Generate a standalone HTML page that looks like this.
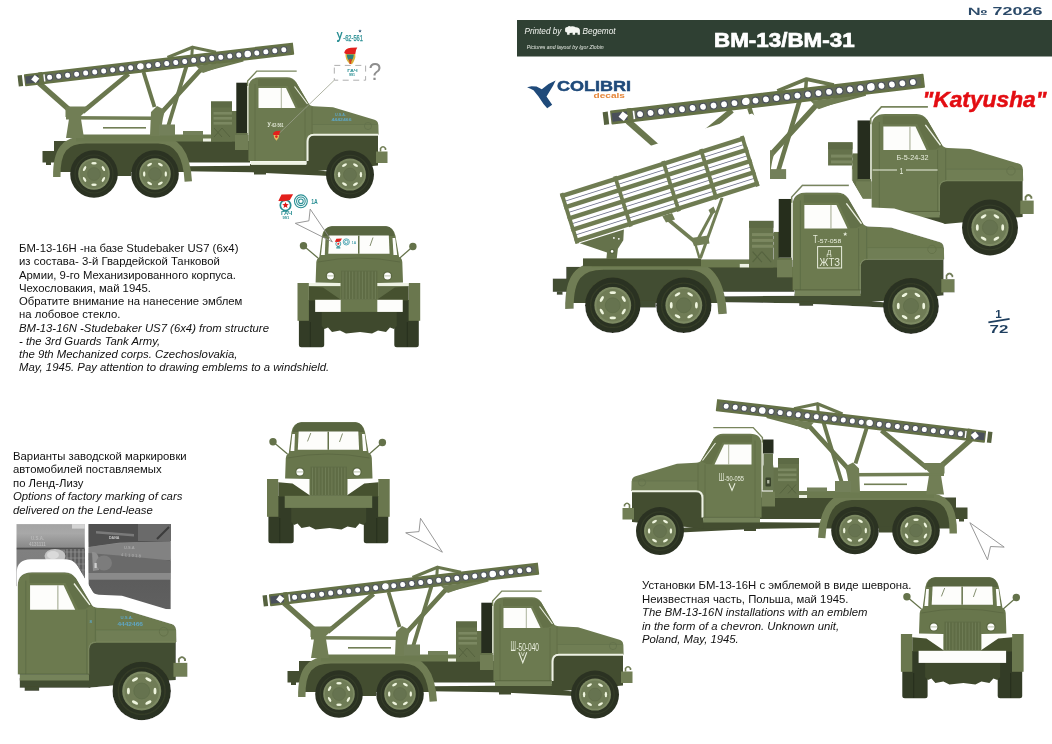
<!DOCTYPE html>
<html><head><meta charset="utf-8"><title>BM-13/BM-31</title>
<style>
html,body{margin:0;padding:0;background:#fff;}
body{width:1052px;height:744px;position:relative;overflow:hidden;font-family:"Liberation Sans",sans-serif;}
</style></head><body>
<svg width="1052" height="744" viewBox="0 0 1052 744" style="position:absolute;left:0;top:0;will-change:transform;opacity:0.999"><defs><g id="chassis"><polygon points="186,166.3 252,165.8 330,171.5 330,176 252,172.3 186,171.3" fill="#434d30"/><rect x="54" y="141" width="196" height="21.5" fill="#434d30"/><rect x="42.5" y="151" width="14" height="11.5" fill="#434d30"/><rect x="46" y="162" width="5" height="3" fill="#434d30"/><path d="M56.8,172 C56.3,150 65,139.8 86,139.8 L158,139.8 C180,139.8 187,158 188,172 Z" fill="#434d30"/><rect x="117" y="170" width="14" height="6" fill="#434d30"/><path d="M56.8,177 C56.3,150 65,139.8 86,139.8 L158,139.8 C180,139.8 187,158 188.3,181.5" fill="none" stroke="#707d54" stroke-width="7.4"/><rect x="76" y="134.5" width="160" height="7" fill="#6c7a50"/><rect x="203" y="138.5" width="8" height="3" fill="#eef2e4"/><circle cx="94" cy="174" r="23.8" fill="#2b3222"/><circle cx="94" cy="174" r="19.0" fill="none" stroke="#343c28" stroke-width="1.2"/><circle cx="94" cy="174" r="15.8" fill="#7d8a63"/><circle cx="94" cy="174" r="14.0" fill="#6f7c56"/><circle cx="94" cy="174" r="6.4" fill="#667350" stroke="#5f6c48" stroke-width="0.6"/><ellipse cx="103.4" cy="179.4" rx="2.74" ry="1.19" fill="#eff5de" transform="rotate(120 103.4 179.4)"/><ellipse cx="94.0" cy="184.8" rx="2.74" ry="1.19" fill="#eff5de" transform="rotate(180 94.0 184.8)"/><ellipse cx="84.6" cy="179.4" rx="2.74" ry="1.19" fill="#eff5de" transform="rotate(240 84.6 179.4)"/><ellipse cx="84.6" cy="168.6" rx="2.74" ry="1.19" fill="#eff5de" transform="rotate(300 84.6 168.6)"/><ellipse cx="94.0" cy="163.2" rx="2.74" ry="1.19" fill="#eff5de" transform="rotate(360 94.0 163.2)"/><ellipse cx="103.4" cy="168.6" rx="2.74" ry="1.19" fill="#eff5de" transform="rotate(420 103.4 168.6)"/><circle cx="155" cy="174" r="23.8" fill="#2b3222"/><circle cx="155" cy="174" r="19.0" fill="none" stroke="#343c28" stroke-width="1.2"/><circle cx="155" cy="174" r="15.8" fill="#7d8a63"/><circle cx="155" cy="174" r="14.0" fill="#6f7c56"/><circle cx="155" cy="174" r="6.4" fill="#667350" stroke="#5f6c48" stroke-width="0.6"/><ellipse cx="165.8" cy="174.0" rx="2.74" ry="1.19" fill="#eff5de" transform="rotate(90 165.8 174.0)"/><ellipse cx="160.4" cy="183.4" rx="2.74" ry="1.19" fill="#eff5de" transform="rotate(150 160.4 183.4)"/><ellipse cx="149.6" cy="183.4" rx="2.74" ry="1.19" fill="#eff5de" transform="rotate(210 149.6 183.4)"/><ellipse cx="144.2" cy="174.0" rx="2.74" ry="1.19" fill="#eff5de" transform="rotate(270 144.2 174.0)"/><ellipse cx="149.6" cy="164.6" rx="2.74" ry="1.19" fill="#eff5de" transform="rotate(330 149.6 164.6)"/><ellipse cx="160.4" cy="164.6" rx="2.74" ry="1.19" fill="#eff5de" transform="rotate(390 160.4 164.6)"/></g><g id="bm13"><path d="M39,83 L69.5,110" stroke="#6a774e" fill="none" stroke-linecap="butt" stroke-width="5.4"/><path d="M128.5,74 L82.5,112" stroke="#6a774e" fill="none" stroke-linecap="butt" stroke-width="4.8"/><path d="M143.5,72 L154.5,107" stroke="#6a774e" fill="none" stroke-linecap="butt" stroke-width="3.9"/><path d="M186.5,66 L167,130" stroke="#6a774e" fill="none" stroke-linecap="butt" stroke-width="3.9"/><path d="M243,59.3 L200,70.5 L157,117.5" stroke="#6a774e" fill="none" stroke-linecap="butt" stroke-width="4.7" stroke-linejoin="round"/><path d="M167.5,57.5 L192.5,47.2 L216,52.3" stroke="#6a774e" fill="none" stroke-linecap="butt" stroke-width="3.2" stroke-linejoin="round"/><path d="M192.4,47.5 L191.5,60" stroke="#6a774e" fill="none" stroke-linecap="butt" stroke-width="3"/><polygon points="196,66 236,61 203,73" fill="#717e55"/><polygon points="66,116 155,116.5 155,120 66,119.5" fill="#717e55"/><polygon points="65.5,106.5 90,106.5 80,117 65.5,117" fill="#717e55"/><polygon points="69,119 81,119 84,138 66,138" fill="#717e55"/><polygon points="151,112 157,106 165,110 163,118 160,136 150,136" fill="#717e55"/><rect x="159" y="124.5" width="16" height="11" fill="#73805a"/><rect x="103" y="127" width="43" height="1.6" fill="#717e55"/><rect x="183" y="131" width="20" height="4" fill="#73805a"/><g transform="translate(24.5,80.3) rotate(-6.721)"><rect x="-6.4" y="-5.5" width="4.4" height="11" fill="#56623f"/><rect x="0" y="-6.1" width="270.9" height="12.2" rx="0.8" fill="#647146"/><rect x="1" y="-3.5" width="266.9" height="7" fill="#636b58"/><rect x="1.2" y="-3.6" width="13" height="7.2" fill="#4a505a"/><rect x="14.5" y="-6.1" width="4" height="12.2" fill="#647146"/><rect x="7.9" y="-2.9" width="5.8" height="5.8" fill="#fff" transform="rotate(45 10.8 0)"/><rect x="19.3" y="-3.6" width="1.4" height="7.2" fill="#fff"/><circle cx="25.3" cy="0" r="3.45" fill="#4c525b"/><circle cx="25.3" cy="0" r="2.5" fill="#fff"/><circle cx="34.4" cy="0" r="3.45" fill="#4c525b"/><circle cx="34.4" cy="0" r="2.5" fill="#fff"/><circle cx="43.4" cy="0" r="3.45" fill="#4c525b"/><circle cx="43.4" cy="0" r="2.5" fill="#fff"/><circle cx="52.5" cy="0" r="3.45" fill="#4c525b"/><circle cx="52.5" cy="0" r="2.5" fill="#fff"/><circle cx="61.6" cy="0" r="3.45" fill="#4c525b"/><circle cx="61.6" cy="0" r="2.5" fill="#fff"/><circle cx="70.7" cy="0" r="3.45" fill="#4c525b"/><circle cx="70.7" cy="0" r="2.5" fill="#fff"/><circle cx="79.7" cy="0" r="3.45" fill="#4c525b"/><circle cx="79.7" cy="0" r="2.5" fill="#fff"/><circle cx="88.8" cy="0" r="3.45" fill="#4c525b"/><circle cx="88.8" cy="0" r="2.5" fill="#fff"/><circle cx="97.9" cy="0" r="3.45" fill="#4c525b"/><circle cx="97.9" cy="0" r="2.5" fill="#fff"/><circle cx="106.9" cy="0" r="3.45" fill="#4c525b"/><circle cx="106.9" cy="0" r="2.5" fill="#fff"/><circle cx="116.0" cy="0" r="3.45" fill="#4c525b"/><circle cx="116.0" cy="0" r="2.5" fill="#fff"/><circle cx="125.1" cy="0" r="3.45" fill="#4c525b"/><circle cx="125.1" cy="0" r="2.5" fill="#fff"/><circle cx="134.1" cy="0" r="3.45" fill="#4c525b"/><circle cx="134.1" cy="0" r="2.5" fill="#fff"/><circle cx="143.2" cy="0" r="3.45" fill="#4c525b"/><circle cx="143.2" cy="0" r="2.5" fill="#fff"/><circle cx="152.3" cy="0" r="3.45" fill="#4c525b"/><circle cx="152.3" cy="0" r="2.5" fill="#fff"/><circle cx="161.3" cy="0" r="3.45" fill="#4c525b"/><circle cx="161.3" cy="0" r="2.5" fill="#fff"/><circle cx="170.4" cy="0" r="3.45" fill="#4c525b"/><circle cx="170.4" cy="0" r="2.5" fill="#fff"/><circle cx="179.5" cy="0" r="3.45" fill="#4c525b"/><circle cx="179.5" cy="0" r="2.5" fill="#fff"/><circle cx="188.6" cy="0" r="3.45" fill="#4c525b"/><circle cx="188.6" cy="0" r="2.5" fill="#fff"/><circle cx="197.6" cy="0" r="3.45" fill="#4c525b"/><circle cx="197.6" cy="0" r="2.5" fill="#fff"/><circle cx="206.7" cy="0" r="3.45" fill="#4c525b"/><circle cx="206.7" cy="0" r="2.5" fill="#fff"/><circle cx="215.8" cy="0" r="3.45" fill="#4c525b"/><circle cx="215.8" cy="0" r="2.5" fill="#fff"/><circle cx="224.8" cy="0" r="4.25" fill="#4c525b"/><circle cx="224.8" cy="0" r="3.3" fill="#fff"/><circle cx="233.9" cy="0" r="3.45" fill="#4c525b"/><circle cx="233.9" cy="0" r="2.5" fill="#fff"/><circle cx="243.0" cy="0" r="3.45" fill="#4c525b"/><circle cx="243.0" cy="0" r="2.5" fill="#fff"/><circle cx="252.0" cy="0" r="3.45" fill="#4c525b"/><circle cx="252.0" cy="0" r="2.5" fill="#fff"/><circle cx="261.1" cy="0" r="3.45" fill="#4c525b"/><circle cx="261.1" cy="0" r="2.5" fill="#fff"/><circle cx="116.9" cy="-0.3" r="3.1" fill="#fff"/></g></g><g id="bm31"><path d="M722.1,197.7 L700.4,258.3" stroke="#717e55" fill="none" stroke-width="3"/><path d="M664.5,216.5 L694,241" stroke="#717e55" fill="none" stroke-width="3.6"/><path d="M713,211.4 L697,241" stroke="#717e55" fill="none" stroke-width="3"/><polygon points="691,238 708,235.5 709.5,243.5 694,246" fill="#717e55"/><path d="M695,243 L699.5,258.3" stroke="#717e55" fill="none" stroke-width="2.4"/><polygon points="662,215.5 672,213 675,219.5 666,222.5" fill="#717e55"/><polygon points="708.5,210 713.5,206.5 716,212 711,215" fill="#717e55"/><path d="M728,174 L723.5,191" stroke="#65724b" stroke-width="2" fill="none"/><polygon points="579.8,243.3 623.9,229.4 623.3,240.3 617.9,248.8 616.7,259 606.4,259 607,252.4" fill="#65724b"/><circle cx="612.1" cy="251.4" r="2.6" fill="#5a6742"/><circle cx="612.1" cy="251.4" r="1.3" fill="#fff"/><circle cx="613.9" cy="237.9" r="0.9" fill="#fff"/><circle cx="618.8" cy="238.8" r="0.9" fill="#fff"/><g transform="translate(559.9,194.3) rotate(-17.581)"><rect x="0" y="0" width="193.0" height="51.6" fill="#fff"/><rect x="0" y="0.00" width="193.0" height="4.5" fill="#6f7c52"/><rect x="0" y="11.78" width="193.0" height="4.5" fill="#6f7c52"/><rect x="0" y="23.55" width="193.0" height="4.5" fill="#6f7c52"/><rect x="0" y="35.33" width="193.0" height="4.5" fill="#6f7c52"/><rect x="0" y="47.10" width="193.0" height="4.5" fill="#6f7c52"/><rect x="3" y="7.79" width="187.0" height="0.7" fill="#6a6e88"/><rect x="3" y="19.56" width="187.0" height="0.7" fill="#6a6e88"/><rect x="3" y="31.34" width="187.0" height="0.7" fill="#6a6e88"/><rect x="3" y="43.11" width="187.0" height="0.7" fill="#6a6e88"/><rect x="0" y="-0.6" width="3.8" height="52.800000000000004" fill="#6f7c52"/><rect x="56" y="-0.6" width="3.8" height="52.800000000000004" fill="#6f7c52"/><rect x="106.5" y="-0.6" width="3.8" height="52.800000000000004" fill="#6f7c52"/><rect x="146" y="-0.6" width="3.8" height="52.800000000000004" fill="#6f7c52"/><rect x="189.2" y="-0.6" width="3.8" height="52.800000000000004" fill="#6f7c52"/></g></g><filter id="halo" x="-10%" y="-30%" width="120%" height="160%"><feMorphology in="SourceAlpha" operator="dilate" radius="3 19" result="d"/><feGaussianBlur in="d" stdDeviation="0.7" result="db"/><feFlood flood-color="#fff"/><feComposite in2="db" operator="in" result="h"/><feMerge><feMergeNode in="h"/><feMergeNode in="SourceGraphic"/></feMerge></filter><filter id="halo6" x="-30%" y="-30%" width="160%" height="160%"><feMorphology in="SourceAlpha" operator="dilate" radius="1 13" result="d"/><feGaussianBlur in="d" stdDeviation="0.7" result="db"/><feFlood flood-color="#fff"/><feComposite in2="db" operator="in" result="h"/><feMerge><feMergeNode in="h"/><feMergeNode in="SourceGraphic"/></feMerge></filter><clipPath id="clip3"><polygon points="595,55 1052,55 1052,110 830,110 792,179 770,179 770,128 752,113.6 595,163.4"/></clipPath></defs>
<g><use href="#chassis"/><g><rect x="211" y="101.5" width="21" height="40" fill="#65724b"/><rect x="211" y="101.5" width="21" height="6" fill="#5d6a45"/><rect x="213.5" y="112" width="19" height="2.6" fill="#7b8861"/><rect x="213.5" y="117" width="19" height="2.6" fill="#7b8861"/><rect x="213.5" y="122" width="19" height="2.6" fill="#7b8861"/><rect x="232" y="111" width="5" height="30" fill="#65724b"/><path d="M214,128 L222,137 M222,128 L230,137 M214,137 L222,128" stroke="#56633f" stroke-width="1" fill="none"/><rect x="236.3" y="82.7" width="11" height="50.6" fill="#262d1e"/><rect x="236.3" y="133" width="11.5" height="3" fill="#65724b"/><rect x="235" y="135" width="13.5" height="15" fill="#717e55"/><rect x="250" y="164" width="58" height="8" fill="#434d30"/><rect x="254" y="171" width="12" height="3.5" fill="#434d30"/><path d="M306.5,172 L306.5,141 Q306.5,134.5 313,134.5 L378,134.5 L378,165.5 L306.5,172 Z" fill="#434d30"/><path d="M248.4,161 L248.4,88 Q248.4,77.4 260,77.2 L287,77.2 Q293,77.4 296,82 L309,104 Q310,106 314,106.3 L333,107.2 L374.5,119.7 Q378,120.8 378.2,124.5 L378.2,134.5 L313,134.5 Q306.5,134.5 306.5,141 L306.5,161 Z" fill="#6c7a50"/><path d="M312.5,124.5 L378.2,124.5 L378.5,134.5 L313,134.5 Z" fill="#707e54"/><path d="M312.5,124.5 L377,124.5" stroke="#62704a" stroke-width="0.6" fill="none"/><circle cx="368" cy="126" r="3.6" fill="none" stroke="#62704a" stroke-width="0.7"/><path d="M255,161 L255,84 M305,108 L305,161" stroke="#5f6d45" stroke-width="0.8" fill="none"/><path d="M312,107 L312,134" stroke="#5f6d45" stroke-width="0.8" fill="none"/><polygon points="284,79 292,79.6 296,82.2 309,104.4 303.5,107.6 298,107.8 287.5,86 258,86 258,79" fill="#647148"/><polygon points="258.5,88 286,88 295.5,108 258.5,108" fill="#fdfdfb"/><line x1="281.3" y1="88" x2="281.3" y2="108" stroke="#8a9474" stroke-width="0.7"/><line x1="294.5" y1="86.5" x2="307.5" y2="104" stroke="#eef2e4" stroke-width="1.1"/><path d="M307.6,161 L307.6,141.5 Q307.6,134.7 314,134.7 L378,134.7" fill="none" stroke="#eef2e4" stroke-width="1.9"/><rect x="250.8" y="161.3" width="55.6" height="3.6" fill="#eef2e4"/><rect x="376" y="151.5" width="11.5" height="11.5" fill="#717e55"/><path d="M380.5,151.5 L380.5,148.5 Q383,145 385.5,148.5 L385.5,150" fill="none" stroke="#717e55" stroke-width="1.6"/><path d="M247.6,133 L247.6,84" fill="none" stroke="#cdd4be" stroke-width="1.2"/><path d="M247.6,86 L247.6,81 L256.8,71.1 L296.7,71.1" fill="none" stroke="#78855d" stroke-width="1.4"/><circle cx="350" cy="174.6" r="24" fill="#2b3222"/><circle cx="350" cy="174.6" r="19.2" fill="none" stroke="#343c28" stroke-width="1.2"/><circle cx="350" cy="174.6" r="16.0" fill="#7d8a63"/><circle cx="350" cy="174.6" r="14.2" fill="#6f7c56"/><circle cx="350" cy="174.6" r="6.5" fill="#667350" stroke="#5f6c48" stroke-width="0.6"/><ellipse cx="360.9" cy="174.6" rx="2.76" ry="1.20" fill="#eff5de" transform="rotate(90 360.9 174.6)"/><ellipse cx="355.5" cy="184.1" rx="2.76" ry="1.20" fill="#eff5de" transform="rotate(150 355.5 184.1)"/><ellipse cx="344.5" cy="184.1" rx="2.76" ry="1.20" fill="#eff5de" transform="rotate(210 344.5 184.1)"/><ellipse cx="339.1" cy="174.6" rx="2.76" ry="1.20" fill="#eff5de" transform="rotate(270 339.1 174.6)"/><ellipse cx="344.5" cy="165.1" rx="2.76" ry="1.20" fill="#eff5de" transform="rotate(330 344.5 165.1)"/><ellipse cx="355.5" cy="165.1" rx="2.76" ry="1.20" fill="#eff5de" transform="rotate(390 355.5 165.1)"/></g><use href="#bm13"/></g>
<g transform="translate(245,520)"><use href="#chassis"/><g><rect x="211" y="101.5" width="21" height="40" fill="#65724b"/><rect x="211" y="101.5" width="21" height="6" fill="#5d6a45"/><rect x="213.5" y="112" width="19" height="2.6" fill="#7b8861"/><rect x="213.5" y="117" width="19" height="2.6" fill="#7b8861"/><rect x="213.5" y="122" width="19" height="2.6" fill="#7b8861"/><rect x="232" y="111" width="5" height="30" fill="#65724b"/><path d="M214,128 L222,137 M222,128 L230,137 M214,137 L222,128" stroke="#56633f" stroke-width="1" fill="none"/><rect x="236.3" y="82.7" width="11" height="50.6" fill="#262d1e"/><rect x="236.3" y="133" width="11.5" height="3" fill="#65724b"/><rect x="235" y="135" width="13.5" height="15" fill="#717e55"/><rect x="250" y="164" width="58" height="8" fill="#434d30"/><rect x="254" y="171" width="12" height="3.5" fill="#434d30"/><path d="M306.5,172 L306.5,141 Q306.5,134.5 313,134.5 L378,134.5 L378,165.5 L306.5,172 Z" fill="#434d30"/><path d="M248.4,161 L248.4,88 Q248.4,77.4 260,77.2 L287,77.2 Q293,77.4 296,82 L309,104 Q310,106 314,106.3 L333,107.2 L374.5,119.7 Q378,120.8 378.2,124.5 L378.2,134.5 L313,134.5 Q306.5,134.5 306.5,141 L306.5,161 Z" fill="#6c7a50"/><path d="M312.5,124.5 L378.2,124.5 L378.5,134.5 L313,134.5 Z" fill="#707e54"/><path d="M312.5,124.5 L377,124.5" stroke="#62704a" stroke-width="0.6" fill="none"/><circle cx="368" cy="126" r="3.6" fill="none" stroke="#62704a" stroke-width="0.7"/><path d="M255,161 L255,84 M305,108 L305,161" stroke="#5f6d45" stroke-width="0.8" fill="none"/><path d="M312,107 L312,134" stroke="#5f6d45" stroke-width="0.8" fill="none"/><polygon points="284,79 292,79.6 296,82.2 309,104.4 303.5,107.6 298,107.8 287.5,86 258,86 258,79" fill="#647148"/><polygon points="258.5,88 286,88 295.5,108 258.5,108" fill="#fdfdfb"/><line x1="281.3" y1="88" x2="281.3" y2="108" stroke="#8a9474" stroke-width="0.7"/><line x1="294.5" y1="86.5" x2="307.5" y2="104" stroke="#eef2e4" stroke-width="1.1"/><path d="M307.6,161 L307.6,141.5 Q307.6,134.7 314,134.7 L378,134.7" fill="none" stroke="#eef2e4" stroke-width="1.9"/><rect x="250" y="160.8" width="56.8" height="5.2" fill="#75835a"/><rect x="250" y="160.4" width="56.8" height="0.8" fill="#55623d"/><rect x="376" y="151.5" width="11.5" height="11.5" fill="#717e55"/><path d="M380.5,151.5 L380.5,148.5 Q383,145 385.5,148.5 L385.5,150" fill="none" stroke="#717e55" stroke-width="1.6"/><path d="M247.6,133 L247.6,84" fill="none" stroke="#cdd4be" stroke-width="1.2"/><path d="M247.6,86 L247.6,81 L256.8,71.1 L296.7,71.1" fill="none" stroke="#78855d" stroke-width="1.4"/><circle cx="350" cy="174.6" r="24" fill="#2b3222"/><circle cx="350" cy="174.6" r="19.2" fill="none" stroke="#343c28" stroke-width="1.2"/><circle cx="350" cy="174.6" r="16.0" fill="#7d8a63"/><circle cx="350" cy="174.6" r="14.2" fill="#6f7c56"/><circle cx="350" cy="174.6" r="6.5" fill="#667350" stroke="#5f6c48" stroke-width="0.6"/><ellipse cx="360.9" cy="174.6" rx="2.76" ry="1.20" fill="#eff5de" transform="rotate(90 360.9 174.6)"/><ellipse cx="355.5" cy="184.1" rx="2.76" ry="1.20" fill="#eff5de" transform="rotate(150 355.5 184.1)"/><ellipse cx="344.5" cy="184.1" rx="2.76" ry="1.20" fill="#eff5de" transform="rotate(210 344.5 184.1)"/><ellipse cx="339.1" cy="174.6" rx="2.76" ry="1.20" fill="#eff5de" transform="rotate(270 339.1 174.6)"/><ellipse cx="344.5" cy="165.1" rx="2.76" ry="1.20" fill="#eff5de" transform="rotate(330 344.5 165.1)"/><ellipse cx="355.5" cy="165.1" rx="2.76" ry="1.20" fill="#eff5de" transform="rotate(390 355.5 165.1)"/></g><use href="#bm13"/></g>
<g transform="translate(1010,356.5) scale(-1,1)"><use href="#chassis"/><g><rect x="211" y="101.5" width="21" height="40" fill="#65724b"/><rect x="211" y="101.5" width="21" height="6" fill="#5d6a45"/><rect x="213.5" y="112" width="19" height="2.6" fill="#7b8861"/><rect x="213.5" y="117" width="19" height="2.6" fill="#7b8861"/><rect x="213.5" y="122" width="19" height="2.6" fill="#7b8861"/><rect x="232" y="111" width="5" height="30" fill="#65724b"/><path d="M214,128 L222,137 M222,128 L230,137 M214,137 L222,128" stroke="#56633f" stroke-width="1" fill="none"/><rect x="236.5" y="83" width="10.5" height="14" fill="#262d1e"/><path d="M237,97 L246.5,97 L246.5,108 L247.5,112 L247.5,134 L236.3,134 L236.3,112 L237,108 Z" fill="#687650"/><rect x="239" y="121" width="5.5" height="9" rx="1" fill="#39432b"/><rect x="240.6" y="123.5" width="2.3" height="3.5" fill="#aeb6a0"/><rect x="235" y="135" width="13.5" height="15" fill="#717e55"/><rect x="250" y="164" width="58" height="8" fill="#434d30"/><rect x="254" y="171" width="12" height="3.5" fill="#434d30"/><path d="M306.5,172 L306.5,141 Q306.5,134.5 313,134.5 L378,134.5 L378,165.5 L306.5,172 Z" fill="#434d30"/><path d="M248.4,161 L248.4,88 Q248.4,77.4 260,77.2 L287,77.2 Q293,77.4 296,82 L309,104 Q310,106 314,106.3 L333,107.2 L374.5,119.7 Q378,120.8 378.2,124.5 L378.2,134.5 L313,134.5 Q306.5,134.5 306.5,141 L306.5,161 Z" fill="#6c7a50"/><path d="M312.5,124.5 L378.2,124.5 L378.5,134.5 L313,134.5 Z" fill="#707e54"/><path d="M312.5,124.5 L377,124.5" stroke="#62704a" stroke-width="0.6" fill="none"/><circle cx="368" cy="126" r="3.6" fill="none" stroke="#62704a" stroke-width="0.7"/><path d="M255,161 L255,84 M305,108 L305,161" stroke="#5f6d45" stroke-width="0.8" fill="none"/><path d="M312,107 L312,134" stroke="#5f6d45" stroke-width="0.8" fill="none"/><polygon points="284,79 292,79.6 296,82.2 309,104.4 303.5,107.6 298,107.8 287.5,86 258,86 258,79" fill="#647148"/><polygon points="258.5,88 286,88 295.5,108 258.5,108" fill="#fdfdfb"/><line x1="281.3" y1="88" x2="281.3" y2="108" stroke="#8a9474" stroke-width="0.7"/><line x1="294.5" y1="86.5" x2="307.5" y2="104" stroke="#eef2e4" stroke-width="1.1"/><path d="M307.6,161 L307.6,141.5 Q307.6,134.7 314,134.7 L378,134.7" fill="none" stroke="#eef2e4" stroke-width="1.9"/><rect x="250" y="160.8" width="56.8" height="5.2" fill="#75835a"/><rect x="250" y="160.4" width="56.8" height="0.8" fill="#55623d"/><rect x="376" y="151.5" width="11.5" height="11.5" fill="#717e55"/><path d="M380.5,151.5 L380.5,148.5 Q383,145 385.5,148.5 L385.5,150" fill="none" stroke="#717e55" stroke-width="1.6"/><path d="M247.6,133 L247.6,84" fill="none" stroke="#cdd4be" stroke-width="1.2"/><path d="M247.6,86 L247.6,81 L256.8,71.1 L296.7,71.1" fill="none" stroke="#78855d" stroke-width="1.4"/><circle cx="350" cy="174.6" r="24" fill="#2b3222"/><circle cx="350" cy="174.6" r="19.2" fill="none" stroke="#343c28" stroke-width="1.2"/><circle cx="350" cy="174.6" r="16.0" fill="#7d8a63"/><circle cx="350" cy="174.6" r="14.2" fill="#6f7c56"/><circle cx="350" cy="174.6" r="6.5" fill="#667350" stroke="#5f6c48" stroke-width="0.6"/><ellipse cx="360.9" cy="174.6" rx="2.76" ry="1.20" fill="#eff5de" transform="rotate(90 360.9 174.6)"/><ellipse cx="355.5" cy="184.1" rx="2.76" ry="1.20" fill="#eff5de" transform="rotate(150 355.5 184.1)"/><ellipse cx="344.5" cy="184.1" rx="2.76" ry="1.20" fill="#eff5de" transform="rotate(210 344.5 184.1)"/><ellipse cx="339.1" cy="174.6" rx="2.76" ry="1.20" fill="#eff5de" transform="rotate(270 339.1 174.6)"/><ellipse cx="344.5" cy="165.1" rx="2.76" ry="1.20" fill="#eff5de" transform="rotate(330 344.5 165.1)"/><ellipse cx="355.5" cy="165.1" rx="2.76" ry="1.20" fill="#eff5de" transform="rotate(390 355.5 165.1)"/></g><use href="#bm13"/></g>
<g clip-path="url(#clip3)"><g transform="translate(990,227.5) scale(1.165) translate(-350,-174.6)"><use href="#bm13"/></g></g>
<g transform="translate(990,227.5) scale(1.165) translate(-350,-174.6)"><g><rect x="211" y="101.5" width="21" height="40" fill="#65724b"/><rect x="211" y="101.5" width="21" height="6" fill="#5d6a45"/><rect x="213.5" y="112" width="19" height="2.6" fill="#7b8861"/><rect x="213.5" y="117" width="19" height="2.6" fill="#7b8861"/><rect x="213.5" y="122" width="19" height="2.6" fill="#7b8861"/><rect x="232" y="111" width="5" height="30" fill="#65724b"/><path d="M214,128 L222,137 M222,128 L230,137 M214,137 L222,128" stroke="#56633f" stroke-width="1" fill="none"/><rect x="236.3" y="82.7" width="11" height="50.6" fill="#262d1e"/><rect x="236.3" y="133" width="11.5" height="3" fill="#65724b"/><rect x="235" y="135" width="13.5" height="15" fill="#717e55"/><rect x="250" y="164" width="58" height="8" fill="#434d30"/><rect x="254" y="171" width="12" height="3.5" fill="#434d30"/><path d="M306.5,172 L306.5,141 Q306.5,134.5 313,134.5 L378,134.5 L378,165.5 L306.5,172 Z" fill="#434d30"/><path d="M248.4,161 L248.4,88 Q248.4,77.4 260,77.2 L287,77.2 Q293,77.4 296,82 L309,104 Q310,106 314,106.3 L333,107.2 L374.5,119.7 Q378,120.8 378.2,124.5 L378.2,134.5 L313,134.5 Q306.5,134.5 306.5,141 L306.5,161 Z" fill="#6c7a50"/><path d="M312.5,124.5 L378.2,124.5 L378.5,134.5 L313,134.5 Z" fill="#707e54"/><path d="M312.5,124.5 L377,124.5" stroke="#62704a" stroke-width="0.6" fill="none"/><circle cx="368" cy="126" r="3.6" fill="none" stroke="#62704a" stroke-width="0.7"/><path d="M255,161 L255,84 M305,108 L305,161" stroke="#5f6d45" stroke-width="0.8" fill="none"/><path d="M312,107 L312,134" stroke="#5f6d45" stroke-width="0.8" fill="none"/><polygon points="284,79 292,79.6 296,82.2 309,104.4 303.5,107.6 298,107.8 287.5,86 258,86 258,79" fill="#647148"/><polygon points="258.5,88 286,88 295.5,108 258.5,108" fill="#fdfdfb"/><line x1="281.3" y1="88" x2="281.3" y2="108" stroke="#8a9474" stroke-width="0.7"/><line x1="294.5" y1="86.5" x2="307.5" y2="104" stroke="#eef2e4" stroke-width="1.1"/><path d="M306.5,161 L306.5,141 Q306.5,134.5 313,134.5 L378,134.5" fill="none" stroke="#78865c" stroke-width="1"/><rect x="250" y="160.8" width="56.8" height="5.2" fill="#75835a"/><rect x="250" y="160.4" width="56.8" height="0.8" fill="#55623d"/><rect x="376" y="151.5" width="11.5" height="11.5" fill="#717e55"/><path d="M380.5,151.5 L380.5,148.5 Q383,145 385.5,148.5 L385.5,150" fill="none" stroke="#717e55" stroke-width="1.6"/><path d="M247.6,133 L247.6,84" fill="none" stroke="#cdd4be" stroke-width="1.2"/><path d="M247.6,86 L247.6,81 L256.8,71.1 L296.7,71.1" fill="none" stroke="#78855d" stroke-width="1.4"/><circle cx="350" cy="174.6" r="24" fill="#2b3222"/><circle cx="350" cy="174.6" r="19.2" fill="none" stroke="#343c28" stroke-width="1.2"/><circle cx="350" cy="174.6" r="16.0" fill="#7d8a63"/><circle cx="350" cy="174.6" r="14.2" fill="#6f7c56"/><circle cx="350" cy="174.6" r="6.5" fill="#667350" stroke="#5f6c48" stroke-width="0.6"/><ellipse cx="360.9" cy="174.6" rx="2.76" ry="1.20" fill="#eff5de" transform="rotate(90 360.9 174.6)"/><ellipse cx="355.5" cy="184.1" rx="2.76" ry="1.20" fill="#eff5de" transform="rotate(150 355.5 184.1)"/><ellipse cx="344.5" cy="184.1" rx="2.76" ry="1.20" fill="#eff5de" transform="rotate(210 344.5 184.1)"/><ellipse cx="339.1" cy="174.6" rx="2.76" ry="1.20" fill="#eff5de" transform="rotate(270 339.1 174.6)"/><ellipse cx="344.5" cy="165.1" rx="2.76" ry="1.20" fill="#eff5de" transform="rotate(330 344.5 165.1)"/><ellipse cx="355.5" cy="165.1" rx="2.76" ry="1.20" fill="#eff5de" transform="rotate(390 355.5 165.1)"/></g></g>
<g filter="url(#halo)"><g transform="translate(911,306) scale(1.165) translate(-350,-174.6)"><use href="#chassis"/><g><rect x="211" y="101.5" width="21" height="40" fill="#65724b"/><rect x="211" y="101.5" width="21" height="6" fill="#5d6a45"/><rect x="213.5" y="112" width="19" height="2.6" fill="#7b8861"/><rect x="213.5" y="117" width="19" height="2.6" fill="#7b8861"/><rect x="213.5" y="122" width="19" height="2.6" fill="#7b8861"/><rect x="232" y="111" width="5" height="30" fill="#65724b"/><path d="M214,128 L222,137 M222,128 L230,137 M214,137 L222,128" stroke="#56633f" stroke-width="1" fill="none"/><rect x="236.3" y="82.7" width="11" height="50.6" fill="#262d1e"/><rect x="236.3" y="133" width="11.5" height="3" fill="#65724b"/><rect x="235" y="135" width="13.5" height="15" fill="#717e55"/><rect x="250" y="164" width="58" height="8" fill="#434d30"/><rect x="254" y="171" width="12" height="3.5" fill="#434d30"/><path d="M306.5,172 L306.5,141 Q306.5,134.5 313,134.5 L378,134.5 L378,165.5 L306.5,172 Z" fill="#434d30"/><path d="M248.4,161 L248.4,88 Q248.4,77.4 260,77.2 L287,77.2 Q293,77.4 296,82 L309,104 Q310,106 314,106.3 L333,107.2 L374.5,119.7 Q378,120.8 378.2,124.5 L378.2,134.5 L313,134.5 Q306.5,134.5 306.5,141 L306.5,161 Z" fill="#6c7a50"/><path d="M312.5,124.5 L378.2,124.5 L378.5,134.5 L313,134.5 Z" fill="#707e54"/><path d="M312.5,124.5 L377,124.5" stroke="#62704a" stroke-width="0.6" fill="none"/><circle cx="368" cy="126" r="3.6" fill="none" stroke="#62704a" stroke-width="0.7"/><path d="M255,161 L255,84 M305,108 L305,161" stroke="#5f6d45" stroke-width="0.8" fill="none"/><path d="M312,107 L312,134" stroke="#5f6d45" stroke-width="0.8" fill="none"/><polygon points="284,79 292,79.6 296,82.2 309,104.4 303.5,107.6 298,107.8 287.5,86 258,86 258,79" fill="#647148"/><polygon points="258.5,88 286,88 295.5,108 258.5,108" fill="#fdfdfb"/><line x1="281.3" y1="88" x2="281.3" y2="108" stroke="#8a9474" stroke-width="0.7"/><line x1="294.5" y1="86.5" x2="307.5" y2="104" stroke="#eef2e4" stroke-width="1.1"/><path d="M306.5,161 L306.5,141 Q306.5,134.5 313,134.5 L378,134.5" fill="none" stroke="#78865c" stroke-width="1"/><rect x="250" y="160.8" width="56.8" height="5.2" fill="#75835a"/><rect x="250" y="160.4" width="56.8" height="0.8" fill="#55623d"/><rect x="376" y="151.5" width="11.5" height="11.5" fill="#717e55"/><path d="M380.5,151.5 L380.5,148.5 Q383,145 385.5,148.5 L385.5,150" fill="none" stroke="#717e55" stroke-width="1.6"/><path d="M247.6,133 L247.6,84" fill="none" stroke="#cdd4be" stroke-width="1.2"/><path d="M247.6,86 L247.6,81 L256.8,71.1 L296.7,71.1" fill="none" stroke="#78855d" stroke-width="1.4"/><circle cx="350" cy="174.6" r="24" fill="#2b3222"/><circle cx="350" cy="174.6" r="19.2" fill="none" stroke="#343c28" stroke-width="1.2"/><circle cx="350" cy="174.6" r="16.0" fill="#7d8a63"/><circle cx="350" cy="174.6" r="14.2" fill="#6f7c56"/><circle cx="350" cy="174.6" r="6.5" fill="#667350" stroke="#5f6c48" stroke-width="0.6"/><ellipse cx="360.9" cy="174.6" rx="2.76" ry="1.20" fill="#eff5de" transform="rotate(90 360.9 174.6)"/><ellipse cx="355.5" cy="184.1" rx="2.76" ry="1.20" fill="#eff5de" transform="rotate(150 355.5 184.1)"/><ellipse cx="344.5" cy="184.1" rx="2.76" ry="1.20" fill="#eff5de" transform="rotate(210 344.5 184.1)"/><ellipse cx="339.1" cy="174.6" rx="2.76" ry="1.20" fill="#eff5de" transform="rotate(270 339.1 174.6)"/><ellipse cx="344.5" cy="165.1" rx="2.76" ry="1.20" fill="#eff5de" transform="rotate(330 344.5 165.1)"/><ellipse cx="355.5" cy="165.1" rx="2.76" ry="1.20" fill="#eff5de" transform="rotate(390 355.5 165.1)"/></g></g></g>
<rect x="583" y="258.4" width="118" height="7.8" fill="#4b5634"/>
<use href="#bm31"/>
<defs><linearGradient id="pg1" x1="0" y1="0" x2="0" y2="1"><stop offset="0" stop-color="#a4a4a4"/><stop offset="0.15" stop-color="#a8a8a8"/><stop offset="0.37" stop-color="#8a8a8a"/><stop offset="0.395" stop-color="#4c4c4c"/><stop offset="0.42" stop-color="#808080"/><stop offset="1" stop-color="#7c7c7c"/></linearGradient><linearGradient id="pg2" x1="0" y1="0" x2="0" y2="1"><stop offset="0" stop-color="#4e4e4e"/><stop offset="0.2" stop-color="#5a5a5a"/><stop offset="0.22" stop-color="#8c8c8c"/><stop offset="0.4" stop-color="#7e7e7e"/><stop offset="0.42" stop-color="#555"/><stop offset="0.56" stop-color="#6a6a6a"/><stop offset="0.58" stop-color="#8a8a8a"/><stop offset="0.64" stop-color="#868686"/><stop offset="0.66" stop-color="#5c5c5c"/><stop offset="1" stop-color="#606060"/></linearGradient><clipPath id="pc2"><rect x="88.4" y="524.1" width="82.4" height="85.2"/></clipPath></defs><rect x="16.5" y="524.1" width="68.3" height="62" fill="url(#pg1)"/><rect x="72" y="524.1" width="12.8" height="4.5" fill="#d4d4d4"/><rect x="65" y="549" width="19.8" height="38" fill="#5e5e5e"/><line x1="67" y1="549" x2="67" y2="587" stroke="#a8a8a8" stroke-width="0.7"/><line x1="71" y1="549" x2="71" y2="587" stroke="#a8a8a8" stroke-width="0.7"/><line x1="75" y1="549" x2="75" y2="587" stroke="#a8a8a8" stroke-width="0.7"/><line x1="79" y1="549" x2="79" y2="587" stroke="#a8a8a8" stroke-width="0.7"/><line x1="83" y1="549" x2="83" y2="587" stroke="#a8a8a8" stroke-width="0.7"/><line x1="65" y1="552" x2="84.8" y2="552" stroke="#999" stroke-width="0.6"/><line x1="65" y1="558" x2="84.8" y2="558" stroke="#999" stroke-width="0.6"/><line x1="65" y1="564" x2="84.8" y2="564" stroke="#999" stroke-width="0.6"/><line x1="65" y1="570" x2="84.8" y2="570" stroke="#999" stroke-width="0.6"/><line x1="65" y1="576" x2="84.8" y2="576" stroke="#999" stroke-width="0.6"/><line x1="65" y1="582" x2="84.8" y2="582" stroke="#999" stroke-width="0.6"/><ellipse cx="55" cy="556" rx="10.5" ry="7" fill="#c4c4c4"/><ellipse cx="53" cy="555" rx="6" ry="4" fill="#dadada"/><text x="31" y="540" font-family="Liberation Sans, sans-serif" font-size="4.5" fill="#b8b8b8" font-weight="bold">U.S.A.</text><text x="29" y="546" font-family="Liberation Sans, sans-serif" font-size="4.5" fill="#b8b8b8" font-weight="bold">4131111</text><g clip-path="url(#pc2)"><rect x="88.4" y="524.1" width="82.4" height="85.2" fill="url(#pg2)"/><polygon points="88.4,547 120,542.5 170.8,541 170.8,524.1 88.4,524.1" fill="#505050"/><polygon points="138,524.1 170.8,524.1 170.8,541 138,541" fill="#6a6a6a"/><polygon points="96,531 134,534 134,536.5 96,533.5" fill="#7a7a7a"/><path d="M157,539 L169,527" stroke="#3c3c3c" stroke-width="2.2"/><path d="M88.4,547.5 Q120,541.5 170.8,541.5 L170.8,560 L88.4,560 Z" fill="#828282"/><path d="M88.4,553 Q130,556 170.8,560.5 L170.8,573 L88.4,573 Z" fill="#6a6a6a"/><text x="109" y="539" font-family="Liberation Sans, sans-serif" font-size="3.6" fill="#c8c8c8" font-weight="bold">DANA</text><text x="124" y="548.5" font-family="Liberation Sans, sans-serif" font-size="4" fill="#a9a9a9" font-weight="bold">U.S.A</text><text x="121" y="556" font-family="Liberation Sans, sans-serif" font-size="4.2" fill="#a4a4a4" font-weight="bold" transform="rotate(4 121 556)">4 1 1 0 1 8</text><path d="M92,552 Q98,551 99,560 L99,570 L93,571 Z" fill="#8f8f8f"/><ellipse cx="104" cy="563" rx="8" ry="7.5" fill="#7c7c7c"/><rect x="94.5" y="563" width="2.2" height="5" fill="#d0d0d0"/><rect x="88.4" y="573" width="82.4" height="6.5" fill="#8a8a8a"/></g>
<g filter="url(#halo6)"><g transform="translate(141.7,691) scale(1.22) translate(-350,-174.6)"><g><rect x="250" y="164" width="58" height="8" fill="#434d30"/><rect x="254" y="171" width="12" height="3.5" fill="#434d30"/><path d="M306.5,172 L306.5,141 Q306.5,134.5 313,134.5 L378,134.5 L378,165.5 L306.5,172 Z" fill="#434d30"/><path d="M248.4,161 L248.4,88 Q248.4,77.4 260,77.2 L287,77.2 Q293,77.4 296,82 L309,104 Q310,106 314,106.3 L333,107.2 L374.5,119.7 Q378,120.8 378.2,124.5 L378.2,134.5 L313,134.5 Q306.5,134.5 306.5,141 L306.5,161 Z" fill="#6c7a50"/><path d="M312.5,124.5 L378.2,124.5 L378.5,134.5 L313,134.5 Z" fill="#707e54"/><path d="M312.5,124.5 L377,124.5" stroke="#62704a" stroke-width="0.6" fill="none"/><circle cx="368" cy="126" r="3.6" fill="none" stroke="#62704a" stroke-width="0.7"/><path d="M255,161 L255,84 M305,108 L305,161" stroke="#5f6d45" stroke-width="0.8" fill="none"/><path d="M312,107 L312,134" stroke="#5f6d45" stroke-width="0.8" fill="none"/><polygon points="284,79 292,79.6 296,82.2 309,104.4 303.5,107.6 298,107.8 287.5,86 258,86 258,79" fill="#647148"/><polygon points="258.5,88 286,88 295.5,108 258.5,108" fill="#fdfdfb"/><line x1="281.3" y1="88" x2="281.3" y2="108" stroke="#8a9474" stroke-width="0.7"/><line x1="294.5" y1="86.5" x2="307.5" y2="104" stroke="#eef2e4" stroke-width="1.1"/><path d="M306.5,161 L306.5,141 Q306.5,134.5 313,134.5 L378,134.5" fill="none" stroke="#78865c" stroke-width="1"/><rect x="250" y="160.8" width="56.8" height="5.2" fill="#75835a"/><rect x="250" y="160.4" width="56.8" height="0.8" fill="#55623d"/><rect x="376" y="151.5" width="11.5" height="11.5" fill="#717e55"/><path d="M380.5,151.5 L380.5,148.5 Q383,145 385.5,148.5 L385.5,150" fill="none" stroke="#717e55" stroke-width="1.6"/><circle cx="350" cy="174.6" r="24" fill="#2b3222"/><circle cx="350" cy="174.6" r="19.2" fill="none" stroke="#343c28" stroke-width="1.2"/><circle cx="350" cy="174.6" r="16.0" fill="#7d8a63"/><circle cx="350" cy="174.6" r="14.2" fill="#6f7c56"/><circle cx="350" cy="174.6" r="6.5" fill="#667350" stroke="#5f6c48" stroke-width="0.6"/><ellipse cx="360.9" cy="174.6" rx="2.76" ry="1.20" fill="#eff5de" transform="rotate(90 360.9 174.6)"/><ellipse cx="355.5" cy="184.1" rx="2.76" ry="1.20" fill="#eff5de" transform="rotate(150 355.5 184.1)"/><ellipse cx="344.5" cy="184.1" rx="2.76" ry="1.20" fill="#eff5de" transform="rotate(210 344.5 184.1)"/><ellipse cx="339.1" cy="174.6" rx="2.76" ry="1.20" fill="#eff5de" transform="rotate(270 339.1 174.6)"/><ellipse cx="344.5" cy="165.1" rx="2.76" ry="1.20" fill="#eff5de" transform="rotate(330 344.5 165.1)"/><ellipse cx="355.5" cy="165.1" rx="2.76" ry="1.20" fill="#eff5de" transform="rotate(390 355.5 165.1)"/></g></g></g>
<rect x="517" y="20" width="535" height="36.5" fill="#2f4033"/><text x="714" y="47.1" font-family="Liberation Sans, sans-serif" font-size="20" font-weight="bold" fill="#fff" stroke="#fff" stroke-width="0.7" textLength="140.6" lengthAdjust="spacingAndGlyphs">BM-13/BM-31</text><text x="967.7" y="14.9" font-family="Liberation Sans, sans-serif" font-size="10.7" font-weight="bold" fill="#2b4a69" textLength="74.7" lengthAdjust="spacingAndGlyphs">№ 72026</text><text x="524.6" y="34.1" font-family="Liberation Sans, sans-serif" font-size="8.2" font-style="italic" fill="#f4f6f2" textLength="36.7" lengthAdjust="spacingAndGlyphs">Printed by</text><text x="582.6" y="34.1" font-family="Liberation Sans, sans-serif" font-size="8.2" font-style="italic" fill="#f4f6f2" textLength="33" lengthAdjust="spacingAndGlyphs">Begemot</text><path transform="translate(16.6,0)" d="M548.5,30 Q548,27 551,27 Q552,25.6 554,26.4 Q557,25.8 559,27.2 Q562.5,27 563.3,30 L563.3,34.8 L561,34.8 L561,32.8 L558.5,32.8 L558.5,34.8 L556,34.8 L556,32.8 L553,33 L553,34.8 L550.5,34.8 L550.5,32.5 Q548.2,32.5 548.5,30 Z" fill="#f4f6f2"/><text x="526.7" y="48.8" font-family="Liberation Sans, sans-serif" font-size="5.2" font-style="italic" fill="#e6eae4">Pictures and layout by Igor Zlobin</text><polygon points="527.1,87.3 531.5,86.3 536.5,86.6 541.8,89.2 548.5,84 555.6,80.6 553.2,85.5 546.5,96.5 552.2,104.8 547.2,108.2 543.5,104 538.5,96.5 533.5,90.3 530,88.6" fill="#1f4a7a"/><text x="557.1" y="91.3" font-family="Liberation Sans, sans-serif" font-size="14.2" font-weight="bold" fill="#1f4a7a" stroke="#1f4a7a" stroke-width="0.5" textLength="74" lengthAdjust="spacingAndGlyphs">COLIBRI</text><text x="593.6" y="97.7" font-family="Liberation Sans, sans-serif" font-size="7.4" font-weight="bold" fill="#e58538" textLength="31.3" lengthAdjust="spacingAndGlyphs">decals</text><text x="922.5" y="106.6" font-family="Liberation Sans, sans-serif" font-size="22.6" font-weight="bold" font-style="italic" fill="#e30d12" stroke="#e30d12" stroke-width="0.5" textLength="124" lengthAdjust="spacingAndGlyphs">"Katyusha"</text><text x="995.2" y="317.6" font-family="Liberation Sans, sans-serif" font-size="10.5" font-weight="bold" fill="#1f3f5f" textLength="6.5" lengthAdjust="spacingAndGlyphs">1</text><line x1="988.4" y1="322.4" x2="1009.6" y2="318.8" stroke="#1f3f5f" stroke-width="1.8"/><text x="989.5" y="333.3" font-family="Liberation Sans, sans-serif" font-size="11.5" font-weight="bold" fill="#1f3f5f" textLength="18.8" lengthAdjust="spacingAndGlyphs">72</text>
<g><rect x="298.9" y="300" width="25.3" height="47.2" rx="2.5" fill="#333c26"/><rect x="394.3" y="300" width="24.5" height="47.2" rx="2.5" fill="#333c26"/><line x1="310.3" y1="322" x2="310.3" y2="347" stroke="#262d1c" stroke-width="0.9"/><line x1="407.3" y1="322" x2="407.3" y2="347" stroke="#262d1c" stroke-width="0.9"/><path d="M321.7,305 L396.7,305 L396.7,326 L394,329 L390,327.5 L386,332 L378,330.5 L372,333.5 L360,332 L346,333.5 L340,330.5 L332,332 L328,327.5 L324.5,329 L321.7,326 Z" fill="#3f492d"/><rect x="297.5" y="283" width="11.4" height="37.8" fill="#6a774e"/><rect x="408.6" y="283" width="11.6" height="37.8" fill="#6a774e"/><polygon points="308.9,286 341,286 341,300.5 308.9,300.5 308.9,314" fill="#46512f"/><polygon points="408.6,286 377,286 377,300.5 408.6,300.5 408.6,314" fill="#46512f"/><polygon points="308.9,283.5 340.5,283.5 340.5,299.5 323,287.6 308.9,286.2" fill="#5f6c46"/><polygon points="408.8,283.5 377.3,283.5 377.3,299.5 394.8,287.6 408.8,286.2" fill="#5f6c46"/><path d="M315.6,282.5 L316.3,262 Q317,256.5 323,256.3 L396,256.3 Q402,256.5 402.3,262 L403,282.5 L378,283 L378,299.8 L340,299.8 L340,283 Z" fill="#68764c"/><path d="M318,262 Q358,254 400,262" stroke="#5a6741" stroke-width="0.8" fill="none"/><rect x="341" y="270.7" width="36.4" height="29.1" fill="#5f6c45"/><line x1="343.0" y1="271.5" x2="343.0" y2="299" stroke="#74815a" stroke-width="0.8"/><line x1="346.2" y1="271.5" x2="346.2" y2="299" stroke="#74815a" stroke-width="0.8"/><line x1="349.5" y1="271.5" x2="349.5" y2="299" stroke="#74815a" stroke-width="0.8"/><line x1="352.7" y1="271.5" x2="352.7" y2="299" stroke="#74815a" stroke-width="0.8"/><line x1="356.0" y1="271.5" x2="356.0" y2="299" stroke="#74815a" stroke-width="0.8"/><line x1="359.2" y1="271.5" x2="359.2" y2="299" stroke="#74815a" stroke-width="0.8"/><line x1="362.4" y1="271.5" x2="362.4" y2="299" stroke="#74815a" stroke-width="0.8"/><line x1="365.7" y1="271.5" x2="365.7" y2="299" stroke="#74815a" stroke-width="0.8"/><line x1="368.9" y1="271.5" x2="368.9" y2="299" stroke="#74815a" stroke-width="0.8"/><line x1="372.2" y1="271.5" x2="372.2" y2="299" stroke="#74815a" stroke-width="0.8"/><line x1="375.4" y1="271.5" x2="375.4" y2="299" stroke="#74815a" stroke-width="0.8"/><path d="M319.3,257 L322,236 Q323.5,227 332,226.3 L386,226.3 Q393.5,227 395.5,236 L399.1,257 Z" fill="#68764c"/><path d="M323.2,236 Q324.5,226.6 332,226.2 L386,226.2 Q393,226.6 394.6,236 Z" fill="#586540"/><polygon points="329.2,235.6 388.8,235.6 389.6,253.8 328.3,253.8" fill="#fdfdfb"/><rect x="358" y="235.6" width="1.5" height="18.2" fill="#64724a"/><polygon points="322.8,238 325.5,238 324.8,255 321,255" fill="#fdfdfb"/><polygon points="392.5,238 395.2,238 397.2,255 393.5,255" fill="#fdfdfb"/><line x1="373" y1="237.5" x2="370" y2="246" stroke="#64724a" stroke-width="0.8"/><circle cx="330.4" cy="275.9" r="4.7" fill="#5b6842"/><circle cx="330.4" cy="275.9" r="3.5" fill="#fdfdfb"/><circle cx="387.5" cy="275.9" r="4.7" fill="#5b6842"/><circle cx="387.5" cy="275.9" r="3.5" fill="#fdfdfb"/><line x1="326.9" y1="275.9" x2="333.9" y2="275.9" stroke="#9aa588" stroke-width="0.7"/><line x1="384" y1="275.9" x2="391" y2="275.9" stroke="#9aa588" stroke-width="0.7"/><rect x="308.9" y="283" width="31.6" height="3.1" fill="#eef2e4"/><rect x="377.3" y="283" width="31.5" height="3.1" fill="#eef2e4"/><rect x="315.2" y="299.8" width="87.5" height="12.1" fill="#6a784e"/><rect x="315.2" y="299.8" width="25.5" height="12.1" fill="#fdfdfb"/><rect x="377.3" y="299.8" width="25.4" height="12.1" fill="#fdfdfb"/><line x1="303.5" y1="245.8" x2="318" y2="258" stroke="#64724a" stroke-width="1.2"/><circle cx="303.5" cy="245.8" r="3.7" fill="#64724a"/><line x1="412.9" y1="246.5" x2="399.8" y2="258" stroke="#64724a" stroke-width="1.2"/><circle cx="412.9" cy="246.5" r="3.7" fill="#64724a"/></g>
<g transform="translate(-30.5,196)"><rect x="298.9" y="300" width="25.3" height="47.2" rx="2.5" fill="#333c26"/><rect x="394.3" y="300" width="24.5" height="47.2" rx="2.5" fill="#333c26"/><line x1="310.3" y1="322" x2="310.3" y2="347" stroke="#262d1c" stroke-width="0.9"/><line x1="407.3" y1="322" x2="407.3" y2="347" stroke="#262d1c" stroke-width="0.9"/><path d="M321.7,305 L396.7,305 L396.7,326 L394,329 L390,327.5 L386,332 L378,330.5 L372,333.5 L360,332 L346,333.5 L340,330.5 L332,332 L328,327.5 L324.5,329 L321.7,326 Z" fill="#3f492d"/><rect x="297.5" y="283" width="11.4" height="37.8" fill="#6a774e"/><rect x="408.6" y="283" width="11.6" height="37.8" fill="#6a774e"/><polygon points="308.9,286 341,286 341,300.5 308.9,300.5 308.9,314" fill="#46512f"/><polygon points="408.6,286 377,286 377,300.5 408.6,300.5 408.6,314" fill="#46512f"/><polygon points="308.9,283.5 340.5,283.5 340.5,299.5 323,287.6 308.9,286.2" fill="#fdfdfb"/><polygon points="408.8,283.5 377.3,283.5 377.3,299.5 394.8,287.6 408.8,286.2" fill="#fdfdfb"/><path d="M315.6,282.5 L316.3,262 Q317,256.5 323,256.3 L396,256.3 Q402,256.5 402.3,262 L403,282.5 L378,283 L378,299.8 L340,299.8 L340,283 Z" fill="#68764c"/><path d="M318,262 Q358,254 400,262" stroke="#5a6741" stroke-width="0.8" fill="none"/><rect x="341" y="270.7" width="36.4" height="29.1" fill="#5f6c45"/><line x1="343.0" y1="271.5" x2="343.0" y2="299" stroke="#74815a" stroke-width="0.8"/><line x1="346.2" y1="271.5" x2="346.2" y2="299" stroke="#74815a" stroke-width="0.8"/><line x1="349.5" y1="271.5" x2="349.5" y2="299" stroke="#74815a" stroke-width="0.8"/><line x1="352.7" y1="271.5" x2="352.7" y2="299" stroke="#74815a" stroke-width="0.8"/><line x1="356.0" y1="271.5" x2="356.0" y2="299" stroke="#74815a" stroke-width="0.8"/><line x1="359.2" y1="271.5" x2="359.2" y2="299" stroke="#74815a" stroke-width="0.8"/><line x1="362.4" y1="271.5" x2="362.4" y2="299" stroke="#74815a" stroke-width="0.8"/><line x1="365.7" y1="271.5" x2="365.7" y2="299" stroke="#74815a" stroke-width="0.8"/><line x1="368.9" y1="271.5" x2="368.9" y2="299" stroke="#74815a" stroke-width="0.8"/><line x1="372.2" y1="271.5" x2="372.2" y2="299" stroke="#74815a" stroke-width="0.8"/><line x1="375.4" y1="271.5" x2="375.4" y2="299" stroke="#74815a" stroke-width="0.8"/><path d="M319.3,257 L322,236 Q323.5,227 332,226.3 L386,226.3 Q393.5,227 395.5,236 L399.1,257 Z" fill="#68764c"/><path d="M323.2,236 Q324.5,226.6 332,226.2 L386,226.2 Q393,226.6 394.6,236 Z" fill="#586540"/><polygon points="329.2,235.6 388.8,235.6 389.6,253.8 328.3,253.8" fill="#fdfdfb"/><rect x="358" y="235.6" width="1.5" height="18.2" fill="#64724a"/><polygon points="322.8,238 325.5,238 324.8,255 321,255" fill="#fdfdfb"/><polygon points="392.5,238 395.2,238 397.2,255 393.5,255" fill="#fdfdfb"/><line x1="373" y1="237.5" x2="370" y2="246" stroke="#64724a" stroke-width="0.8"/><line x1="341.3" y1="237" x2="338" y2="245.4" stroke="#64724a" stroke-width="0.8"/><circle cx="330.4" cy="275.9" r="4.7" fill="#5b6842"/><circle cx="330.4" cy="275.9" r="3.5" fill="#fdfdfb"/><circle cx="387.5" cy="275.9" r="4.7" fill="#5b6842"/><circle cx="387.5" cy="275.9" r="3.5" fill="#fdfdfb"/><line x1="326.9" y1="275.9" x2="333.9" y2="275.9" stroke="#9aa588" stroke-width="0.7"/><line x1="384" y1="275.9" x2="391" y2="275.9" stroke="#9aa588" stroke-width="0.7"/><rect x="315.2" y="299.8" width="87.5" height="12.1" fill="#717f55"/><line x1="303.5" y1="245.8" x2="318" y2="258" stroke="#64724a" stroke-width="1.2"/><circle cx="303.5" cy="245.8" r="3.7" fill="#64724a"/><line x1="412.9" y1="246.5" x2="399.8" y2="258" stroke="#64724a" stroke-width="1.2"/><circle cx="412.9" cy="246.5" r="3.7" fill="#64724a"/></g>
<g transform="translate(603.4,351)"><rect x="298.9" y="300" width="25.3" height="47.2" rx="2.5" fill="#333c26"/><rect x="394.3" y="300" width="24.5" height="47.2" rx="2.5" fill="#333c26"/><line x1="310.3" y1="322" x2="310.3" y2="347" stroke="#262d1c" stroke-width="0.9"/><line x1="407.3" y1="322" x2="407.3" y2="347" stroke="#262d1c" stroke-width="0.9"/><path d="M321.7,305 L396.7,305 L396.7,326 L394,329 L390,327.5 L386,332 L378,330.5 L372,333.5 L360,332 L346,333.5 L340,330.5 L332,332 L328,327.5 L324.5,329 L321.7,326 Z" fill="#3f492d"/><rect x="297.5" y="283" width="11.4" height="37.8" fill="#6a774e"/><rect x="408.6" y="283" width="11.6" height="37.8" fill="#6a774e"/><polygon points="308.9,286 341,286 341,300.5 308.9,300.5 308.9,314" fill="#46512f"/><polygon points="408.6,286 377,286 377,300.5 408.6,300.5 408.6,314" fill="#46512f"/><polygon points="308.9,283.5 340.5,283.5 340.5,299.5 323,287.6 308.9,286.2" fill="#fdfdfb"/><polygon points="408.8,283.5 377.3,283.5 377.3,299.5 394.8,287.6 408.8,286.2" fill="#fdfdfb"/><path d="M315.6,282.5 L316.3,262 Q317,256.5 323,256.3 L396,256.3 Q402,256.5 402.3,262 L403,282.5 L378,283 L378,299.8 L340,299.8 L340,283 Z" fill="#68764c"/><path d="M318,262 Q358,254 400,262" stroke="#5a6741" stroke-width="0.8" fill="none"/><rect x="341" y="270.7" width="36.4" height="29.1" fill="#5f6c45"/><line x1="343.0" y1="271.5" x2="343.0" y2="299" stroke="#74815a" stroke-width="0.8"/><line x1="346.2" y1="271.5" x2="346.2" y2="299" stroke="#74815a" stroke-width="0.8"/><line x1="349.5" y1="271.5" x2="349.5" y2="299" stroke="#74815a" stroke-width="0.8"/><line x1="352.7" y1="271.5" x2="352.7" y2="299" stroke="#74815a" stroke-width="0.8"/><line x1="356.0" y1="271.5" x2="356.0" y2="299" stroke="#74815a" stroke-width="0.8"/><line x1="359.2" y1="271.5" x2="359.2" y2="299" stroke="#74815a" stroke-width="0.8"/><line x1="362.4" y1="271.5" x2="362.4" y2="299" stroke="#74815a" stroke-width="0.8"/><line x1="365.7" y1="271.5" x2="365.7" y2="299" stroke="#74815a" stroke-width="0.8"/><line x1="368.9" y1="271.5" x2="368.9" y2="299" stroke="#74815a" stroke-width="0.8"/><line x1="372.2" y1="271.5" x2="372.2" y2="299" stroke="#74815a" stroke-width="0.8"/><line x1="375.4" y1="271.5" x2="375.4" y2="299" stroke="#74815a" stroke-width="0.8"/><path d="M319.3,257 L322,236 Q323.5,227 332,226.3 L386,226.3 Q393.5,227 395.5,236 L399.1,257 Z" fill="#68764c"/><path d="M323.2,236 Q324.5,226.6 332,226.2 L386,226.2 Q393,226.6 394.6,236 Z" fill="#586540"/><polygon points="329.2,235.6 388.8,235.6 389.6,253.8 328.3,253.8" fill="#fdfdfb"/><rect x="358" y="235.6" width="1.5" height="18.2" fill="#64724a"/><polygon points="322.8,238 325.5,238 324.8,255 321,255" fill="#fdfdfb"/><polygon points="392.5,238 395.2,238 397.2,255 393.5,255" fill="#fdfdfb"/><line x1="373" y1="237.5" x2="370" y2="246" stroke="#64724a" stroke-width="0.8"/><line x1="341.3" y1="237" x2="338" y2="245.4" stroke="#64724a" stroke-width="0.8"/><circle cx="330.4" cy="275.9" r="4.7" fill="#5b6842"/><circle cx="330.4" cy="275.9" r="3.5" fill="#fdfdfb"/><circle cx="387.5" cy="275.9" r="4.7" fill="#5b6842"/><circle cx="387.5" cy="275.9" r="3.5" fill="#fdfdfb"/><line x1="326.9" y1="275.9" x2="333.9" y2="275.9" stroke="#9aa588" stroke-width="0.7"/><line x1="384" y1="275.9" x2="391" y2="275.9" stroke="#9aa588" stroke-width="0.7"/><rect x="315.2" y="299.8" width="87.5" height="12.1" fill="#fdfdfb"/><line x1="303.5" y1="245.8" x2="318" y2="258" stroke="#64724a" stroke-width="1.2"/><circle cx="303.5" cy="245.8" r="3.7" fill="#64724a"/><line x1="412.9" y1="246.5" x2="399.8" y2="258" stroke="#64724a" stroke-width="1.2"/><circle cx="412.9" cy="246.5" r="3.7" fill="#64724a"/></g>
<polygon points="405.7,532.8 419,531.6 420.5,518.3 442.4,552.2" fill="none" stroke="#8c8c8c" stroke-width="0.9" stroke-linejoin="miter"/><polygon points="969.9,522.7 1004.2,547.1 990.5,546.5 987.5,559.8" fill="none" stroke="#8c8c8c" stroke-width="0.9" stroke-linejoin="miter"/><polygon points="295.3,223.3 308.9,220.8 310.2,209.1 332.4,241.9" fill="none" stroke="#8c8c8c" stroke-width="0.9" stroke-linejoin="miter"/>
<text x="718.7" y="481.3" font-family="Liberation Sans, sans-serif" font-size="10" fill="#e9eedd" textLength="5.4" lengthAdjust="spacingAndGlyphs">Ш</text><text x="724.4" y="481.3" font-family="Liberation Sans, sans-serif" font-size="6.6" fill="#e9eedd" textLength="19.6" lengthAdjust="spacingAndGlyphs">-50-055</text><path d="M729,483.2 L732,490.4 L735,483.2" fill="none" stroke="#e9eedd" stroke-width="1.1"/><text x="510.6" y="650.8" font-family="Liberation Sans, sans-serif" font-size="14.6" fill="#e9eedd" textLength="5.4" lengthAdjust="spacingAndGlyphs">Ш</text><text x="516.4" y="650.8" font-family="Liberation Sans, sans-serif" font-size="10.6" fill="#e9eedd" textLength="22.6" lengthAdjust="spacingAndGlyphs">-50-040</text><path d="M518.8,652.2 L522.8,662.6 L526.8,652.2" fill="none" stroke="#e9eedd" stroke-width="1.1"/><path d="M521.2,652.2 L522.8,656 L524.4,652.2" fill="none" stroke="#e9eedd" stroke-width="0.7"/><text x="813" y="242.8" font-family="Liberation Sans, sans-serif" font-size="11.5" fill="#e9eedd" textLength="4.6" lengthAdjust="spacingAndGlyphs">Т</text><text x="817.6" y="242.6" font-family="Liberation Sans, sans-serif" font-size="6" fill="#e9eedd" textLength="23.6" lengthAdjust="spacingAndGlyphs">-57-058</text><polygon points="845.2,231.8 845.8,233.4 847.4,233.4 846.1,234.4 846.6,236 845.2,235 843.8,236 844.3,234.4 843,233.4 844.6,233.4" fill="#e9eedd"/><rect x="817.6" y="246.6" width="24" height="21.4" fill="none" stroke="#e9eedd" stroke-width="1"/><text x="826.8" y="255" font-family="Liberation Sans, sans-serif" font-size="6.4" fill="#e9eedd" textLength="4.6" lengthAdjust="spacingAndGlyphs">Д</text><text x="819.6" y="265.6" font-family="Liberation Sans, sans-serif" font-size="10.4" fill="#e9eedd" textLength="20.4" lengthAdjust="spacingAndGlyphs">ЖТЗ</text><text x="896.6" y="160.4" font-family="Liberation Sans, sans-serif" font-size="6.6" fill="#e9eedd" textLength="32" lengthAdjust="spacingAndGlyphs">Б-5-24-32</text><line x1="872.6" y1="170" x2="897" y2="170" stroke="#e9eedd" stroke-width="1"/><line x1="906" y1="170" x2="937.6" y2="170" stroke="#e9eedd" stroke-width="1"/><text x="899.6" y="173.8" font-family="Liberation Sans, sans-serif" font-size="9.6" fill="#e9eedd" textLength="3.8" lengthAdjust="spacingAndGlyphs">1</text><text x="120.4" y="619" font-family="Liberation Sans, sans-serif" font-size="4.2" font-weight="bold" fill="#5fa6c4" textLength="12.6" lengthAdjust="spacingAndGlyphs">U.S.A.</text><text x="117.4" y="625.6" font-family="Liberation Sans, sans-serif" font-size="5.2" font-weight="bold" fill="#5fa6c4" textLength="25.6" lengthAdjust="spacingAndGlyphs">4442466</text><text x="89.4" y="622.8" font-family="Liberation Sans, sans-serif" font-size="4.4" font-weight="bold" fill="#5fa6c4">8</text>
<g transform="translate(285.5,204.5) scale(1.0)"><circle cx="0" cy="0.8" r="5.2" fill="#fff" stroke="#2a8f94" stroke-width="1.7"/><polygon points="0,-2.6 0.9,-0.4 3.2,-0.3 1.4,1.2 2,3.5 0,2.2 -2,3.5 -1.4,1.2 -3.2,-0.3 -0.9,-0.4" fill="#e01818"/><polygon points="-7.2,-3.6 -4,-10 7.6,-10.2 4.4,-4.6 -1,-3.2" fill="#e3201c"/><rect x="-2.6" y="5.6" width="5.2" height="1.6" fill="#2a8f94"/></g><text x="281" y="214.9" font-family="Liberation Sans, sans-serif" font-size="4.6" font-weight="bold" fill="#2a8f94" textLength="11.2" lengthAdjust="spacingAndGlyphs">ГАЧ</text><text x="282.4" y="218.8" font-family="Liberation Sans, sans-serif" font-size="3.6" font-weight="bold" fill="#2a8f94" textLength="6.8" lengthAdjust="spacingAndGlyphs">991</text><circle cx="300.9" cy="201.3" r="6.4" fill="none" stroke="#2a8f94" stroke-width="1.1"/><circle cx="300.9" cy="201.3" r="4.3" fill="none" stroke="#2a8f94" stroke-width="1.1"/><circle cx="300.9" cy="201.3" r="2.3" fill="none" stroke="#2a8f94" stroke-width="1.1"/><text x="311.2" y="204.2" font-family="Liberation Sans, sans-serif" font-size="8" font-weight="bold" fill="#2a8f94" textLength="6.6" lengthAdjust="spacingAndGlyphs">1А</text><g transform="translate(338.3,243.5) scale(0.48)"><circle cx="0" cy="0.8" r="5.2" fill="#fff" stroke="#2a8f94" stroke-width="1.7"/><polygon points="0,-2.6 0.9,-0.4 3.2,-0.3 1.4,1.2 2,3.5 0,2.2 -2,3.5 -1.4,1.2 -3.2,-0.3 -0.9,-0.4" fill="#e01818"/><polygon points="-7.2,-3.6 -4,-10 7.6,-10.2 4.4,-4.6 -1,-3.2" fill="#e3201c"/><rect x="-2.6" y="5.6" width="5.2" height="1.6" fill="#2a8f94"/></g><rect x="336.3" y="247" width="4" height="1.6" fill="#2a8f94" opacity="0.8"/><circle cx="346.3" cy="241.9" r="3.1" fill="none" stroke="#4aa3b0" stroke-width="0.9"/><circle cx="346.3" cy="241.9" r="1.7" fill="none" stroke="#4aa3b0" stroke-width="0.9"/><text x="351.8" y="243.6" font-family="Liberation Sans, sans-serif" font-size="3.4" font-weight="bold" fill="#4aa3b0">1А</text><text x="336.6" y="41.5" font-family="Liberation Sans, sans-serif" font-size="14.5" font-weight="bold" fill="#2a8f94" textLength="6" lengthAdjust="spacingAndGlyphs">У</text><text x="343.3" y="41.3" font-family="Liberation Sans, sans-serif" font-size="8.3" fill="#2a8f94" stroke="#2a8f94" stroke-width="0.25" textLength="19.6" lengthAdjust="spacingAndGlyphs">-62-561</text><polygon points="360,29.2 360.5,30.4 361.8,30.4 360.8,31.2 361.2,32.5 360,31.7 358.8,32.5 359.2,31.2 358.2,30.4 359.5,30.4" fill="#2b5a7a"/><path d="M344.2,53 Q345,48 351,47.8 L357.3,47.6 Q355.5,50 355.3,54 L349,55.8 Z" fill="#e3201c"/><path d="M345.5,54 Q344.8,59 349.5,63.8 L352,64.2 Q356,59 355.3,54 Z" fill="#d9b43c"/><path d="M346.8,54.5 Q347,59 350.3,62 Q353.6,59 353.8,54.5 Z" fill="#2f7f78"/><path d="M349,59 L351.8,59 L351,64 L349.6,64 Z" fill="#d8401c"/><rect x="334.3" y="65.4" width="31.3" height="14.8" fill="none" stroke="#a5a5a5" stroke-width="0.9" stroke-dasharray="6 4.5"/><text x="347.3" y="72.3" font-family="Liberation Sans, sans-serif" font-size="4.3" font-weight="bold" fill="#2a8f94" textLength="10.3" lengthAdjust="spacingAndGlyphs">ГАЧ</text><text x="349" y="75.6" font-family="Liberation Sans, sans-serif" font-size="3.3" font-weight="bold" fill="#2a8f94" textLength="6" lengthAdjust="spacingAndGlyphs">991</text><text x="368.6" y="79.6" font-family="Liberation Sans, sans-serif" font-size="23" fill="#8e8e8e">?</text><line x1="334.3" y1="80.2" x2="278.5" y2="134" stroke="#9aa08c" stroke-width="0.8"/><text x="267.5" y="126.8" font-family="Liberation Sans, sans-serif" font-size="7" font-weight="bold" fill="#e4ead8" textLength="3.2" lengthAdjust="spacingAndGlyphs">У</text><text x="271" y="126.6" font-family="Liberation Sans, sans-serif" font-size="4.6" font-weight="bold" fill="#e4ead8" textLength="12.5" lengthAdjust="spacingAndGlyphs">-62-561</text><path d="M272.8,134.5 Q273.5,131.2 277,131 L280.5,130.8 Q279.3,132.5 279.3,135 L276,136 Z" fill="#e3201c"/><path d="M273.6,135 Q273.6,138.5 276.4,140.8 Q279.2,138.5 279.2,135 Z" fill="#e6b860"/><circle cx="276.4" cy="136.6" r="1.3" fill="#e3201c"/><text x="335" y="115.5" font-family="Liberation Sans, sans-serif" font-size="3.6" font-weight="bold" fill="#5fa6c4" textLength="11" lengthAdjust="spacingAndGlyphs">U.S.A.</text><text x="331.5" y="120.6" font-family="Liberation Sans, sans-serif" font-size="4.2" font-weight="bold" fill="#5fa6c4" textLength="20" lengthAdjust="spacingAndGlyphs">4442466</text></svg>
<div style="position:absolute;left:19.3px;top:241.9px;font-size:11.33px;line-height:13.26px;color:#111;white-space:nowrap;will-change:transform;opacity:0.999;"><div style="">БМ-13-16Н -на базе Studebaker US7 (6x4)</div><div style="">из состава- 3-й Гвардейской Танковой</div><div style="">Армии, 9-го Механизированного корпуса.</div><div style="">Чехословакия, май 1945.</div><div style="">Обратите внимание на нанесение эмблем</div><div style="">на лобовое стекло.</div><div style="font-style:italic;">BM-13-16N -Studebaker US7 (6x4) from structure</div><div style="font-style:italic;">- the 3rd Guards Tank Army,</div><div style="font-style:italic;">the 9th Mechanized corps. Czechoslovakia,</div><div style="font-style:italic;">May, 1945. Pay attention to drawing emblems to a windshield.</div></div><div style="position:absolute;left:12.5px;top:449.5px;font-size:11.33px;line-height:13.4px;color:#111;white-space:nowrap;will-change:transform;opacity:0.999;"><div style="">Варианты заводской маркировки</div><div style="">автомобилей поставляемых</div><div style="">по Ленд-Лизу</div><div style="font-style:italic;">Options of factory marking of cars</div><div style="font-style:italic;">delivered on the Lend-lease</div></div><div style="position:absolute;left:642.4px;top:579.3px;font-size:11.33px;line-height:13.6px;color:#111;white-space:nowrap;will-change:transform;opacity:0.999;"><div style="">Установки БМ-13-16Н с эмблемой в виде шеврона.</div><div style="">Неизвестная часть, Польша, май 1945.</div><div style="font-style:italic;">The BM-13-16N installations with an emblem</div><div style="font-style:italic;">in the form of a chevron. Unknown unit,</div><div style="font-style:italic;">Poland, May, 1945.</div></div>
</body></html>
